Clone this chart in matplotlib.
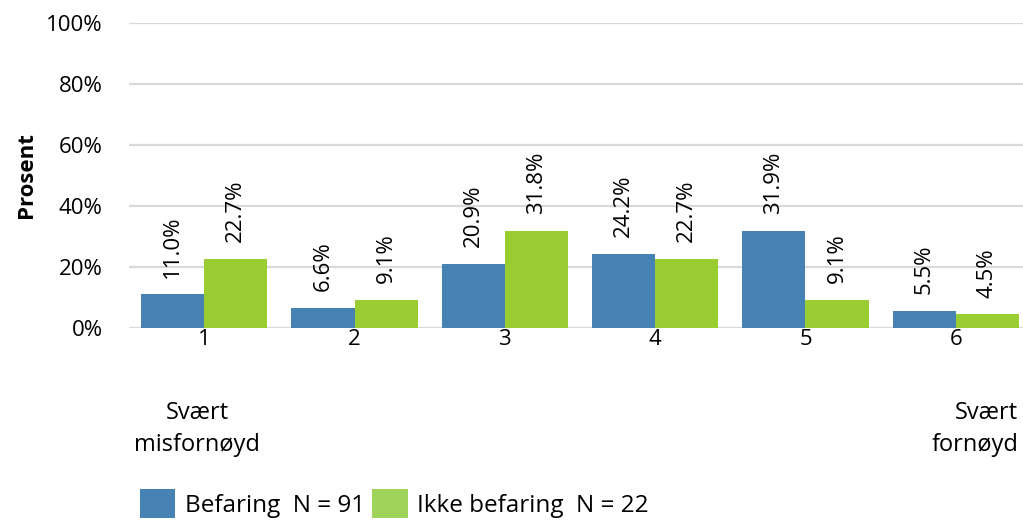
import numpy as np
import matplotlib
matplotlib.use('Agg')
import matplotlib.pyplot as plt
from matplotlib.patches import Patch

plt.rcParams['font.family'] = ['Open Sans', 'DejaVu Sans']

categories = ['1', '2', '3', '4', '5', '6']
befaring = [11.0, 6.6, 20.9, 24.2, 31.9, 5.5]
ikke_befaring = [22.7, 9.1, 31.8, 22.7, 9.1, 4.5]
series_names = ['Befaring  N = 91', 'Ikke befaring  N = 22']
y_ticks = [0, 20, 40, 60, 80, 100]

blue = '#4682B4'
green = '#9ACD32'

fig = plt.figure(figsize=(10.23, 5.21), dpi=100)
ax = fig.add_axes([129 / 1023, 193 / 521, 902 / 1023, 305 / 521])

x = np.arange(len(categories))
w = 0.42
b1 = ax.bar(x - w / 2, befaring, w, color=blue)
b2 = ax.bar(x + w / 2, ikke_befaring, w, color=green)

for bars, vals in ((b1, befaring), (b2, ikke_befaring)):
    for bar, v in zip(bars, vals):
        ax.text(bar.get_x() + bar.get_width() / 2, v + 5.5, f'{v:.1f}%',
                rotation=90, ha='center', va='bottom', fontsize=16)

ax.set_xlim(-0.5, 5.5)
ax.set_ylim(0, 100)
ax.set_yticks(y_ticks)
ax.set_yticklabels([f'{t}%' for t in y_ticks], fontsize=16)
ax.set_xticks(x)
ax.set_xticklabels(categories, fontsize=16)
ax.tick_params(axis='x', length=0, pad=1)
ax.tick_params(axis='y', length=0, pad=19)
ax.yaxis.grid(True, color='#D9D9D9', lw=1.6)
ax.set_axisbelow(True)
for s in ax.spines.values():
    s.set_visible(False)

fig.text(27 / 1023, 1 - 175 / 521, 'Prosent', rotation=90, ha='center',
         va='center', fontsize=16, fontweight='bold')

fig.text(197 / 1023, 1 - 429 / 521, 'Svært\nmisfornøyd', ha='center',
         va='center', fontsize=17, linespacing=1.45)
fig.text(1018 / 1023, 1 - 429 / 521, 'Svært\nfornøyd', ha='right',
         va='center', fontsize=17, linespacing=1.45, multialignment='right')

handles = [Patch(facecolor=blue), Patch(facecolor='#A0D35A')]
fig.legend(handles, series_names, loc='lower left',
           bbox_to_anchor=(118 / 1023, -19 / 521), ncol=2, frameon=False,
           fontsize=17.5, handlelength=1.45, handleheight=1.45,
           handletextpad=0.4, columnspacing=0.3)

fig.savefig('out.png', dpi=100)
